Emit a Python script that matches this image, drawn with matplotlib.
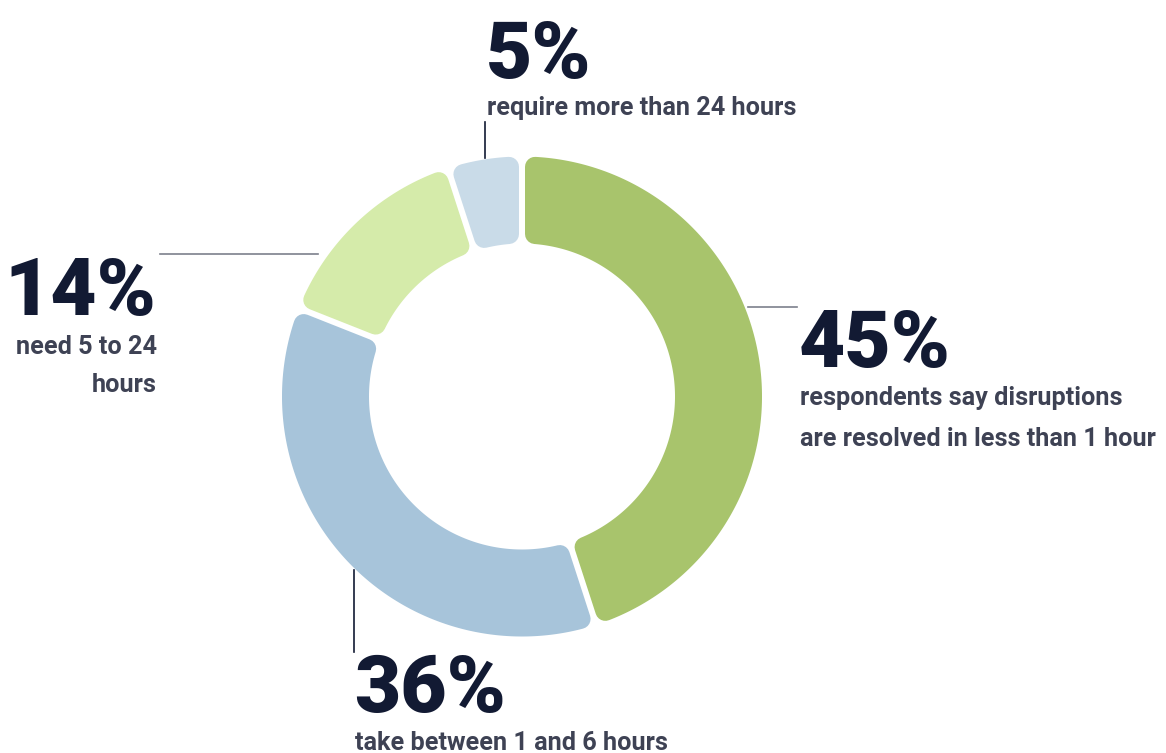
import numpy as np
import matplotlib
matplotlib.use("Agg")
import matplotlib.pyplot as plt
from matplotlib.patches import Polygon

# ---- data ----
categories = ["less than 1 hour", "1 to 6 hours", "5 to 24 hours", "more than 24 hours"]
values = [45, 36, 14, 5]
colors = ["#a8c46c", "#a7c4da", "#d5ebaa", "#c9dbe8"]
pct_labels = ["45%", "36%", "14%", "5%"]
desc_labels = [
    "respondents say disruptions\nare resolved in less than 1 hour",
    "take between 1 and 6 hours",
    "need 5 to 24\nhours",
    "require more than 24 hours",
]

W, H, DPI = 1166, 753, 100
fig = plt.figure(figsize=(W / DPI, H / DPI), dpi=DPI)
ax = fig.add_axes([0, 0, 1, 1])
ax.set_xlim(0, W)
ax.set_ylim(H, 0)
ax.set_aspect("equal")
ax.axis("off")

cx, cy = 522, 396.5
R_out, R_in = 240, 153
gap = 6.0
rc = 10.0

NAVY = "#121a33"
GREY = "#3e4254"
LINE_GREY = "#7d808c"


def seg_polygon(a0, a1):
    Ro = R_out - rc
    Ri = R_in + rc
    d = gap / 2 + rc
    do = np.degrees(np.arcsin(d / Ro))
    di = np.degrees(np.arcsin(d / Ri))
    ao = np.radians(np.linspace(a0 + do, a1 - do, 200))
    ai = np.radians(np.linspace(a1 - di, a0 + di, 200))
    xo = cx + Ro * np.sin(ao)
    yo = cy - Ro * np.cos(ao)
    xi = cx + Ri * np.sin(ai)
    yi = cy - Ri * np.cos(ai)
    return np.column_stack([np.concatenate([xo, xi]), np.concatenate([yo, yi])])


total = sum(values)
start = 0.0
for v, c in zip(values, colors):
    span = 360.0 * v / total
    pts = seg_polygon(start, start + span)
    ax.add_patch(Polygon(pts, closed=True, facecolor=c, edgecolor=c,
                         linewidth=2 * rc * 72 / DPI, joinstyle="round"))
    start += span

# leader lines
ax.plot([485, 485], [122, 158], color=NAVY, lw=1.2)
ax.plot([160, 318], [254, 254], color=LINE_GREY, lw=1.2)
ax.plot([748, 797], [307, 307], color=LINE_GREY, lw=1.2)
ax.plot([354, 354], [570, 652], color=NAVY, lw=1.2)

FONT = "Roboto"
BIG = 57.5
SMALL = 18.2

# 45%
ax.text(799, 367, pct_labels[0], fontsize=BIG, fontweight="black", family=FONT,
        color=NAVY, ha="left", va="baseline")
ax.text(800, 405, desc_labels[0].split("\n")[0], fontsize=SMALL, fontweight="bold",
        family=FONT, color=GREY, ha="left", va="baseline")
ax.text(800, 446, desc_labels[0].split("\n")[1], fontsize=SMALL, fontweight="bold",
        family=FONT, color=GREY, ha="left", va="baseline")

# 36%
ax.text(354, 712, pct_labels[1], fontsize=BIG, fontweight="black", family=FONT,
        color=NAVY, ha="left", va="baseline")
ax.text(355, 750, desc_labels[1], fontsize=SMALL, fontweight="bold",
        family=FONT, color=GREY, ha="left", va="baseline")

# 14%
ax.text(156, 315, pct_labels[2], fontsize=BIG, fontweight="black", family=FONT,
        color=NAVY, ha="right", va="baseline")
ax.text(157, 354, desc_labels[2].split("\n")[0], fontsize=SMALL, fontweight="bold",
        family=FONT, color=GREY, ha="right", va="baseline")
ax.text(157, 392, desc_labels[2].split("\n")[1], fontsize=SMALL, fontweight="bold",
        family=FONT, color=GREY, ha="right", va="baseline")

# 5%
ax.text(486, 78, pct_labels[3], fontsize=BIG, fontweight="black", family=FONT,
        color=NAVY, ha="left", va="baseline")
ax.text(487, 115, desc_labels[3], fontsize=SMALL, fontweight="bold",
        family=FONT, color=GREY, ha="left", va="baseline")

fig.savefig("out.png", dpi=DPI, facecolor="white")
